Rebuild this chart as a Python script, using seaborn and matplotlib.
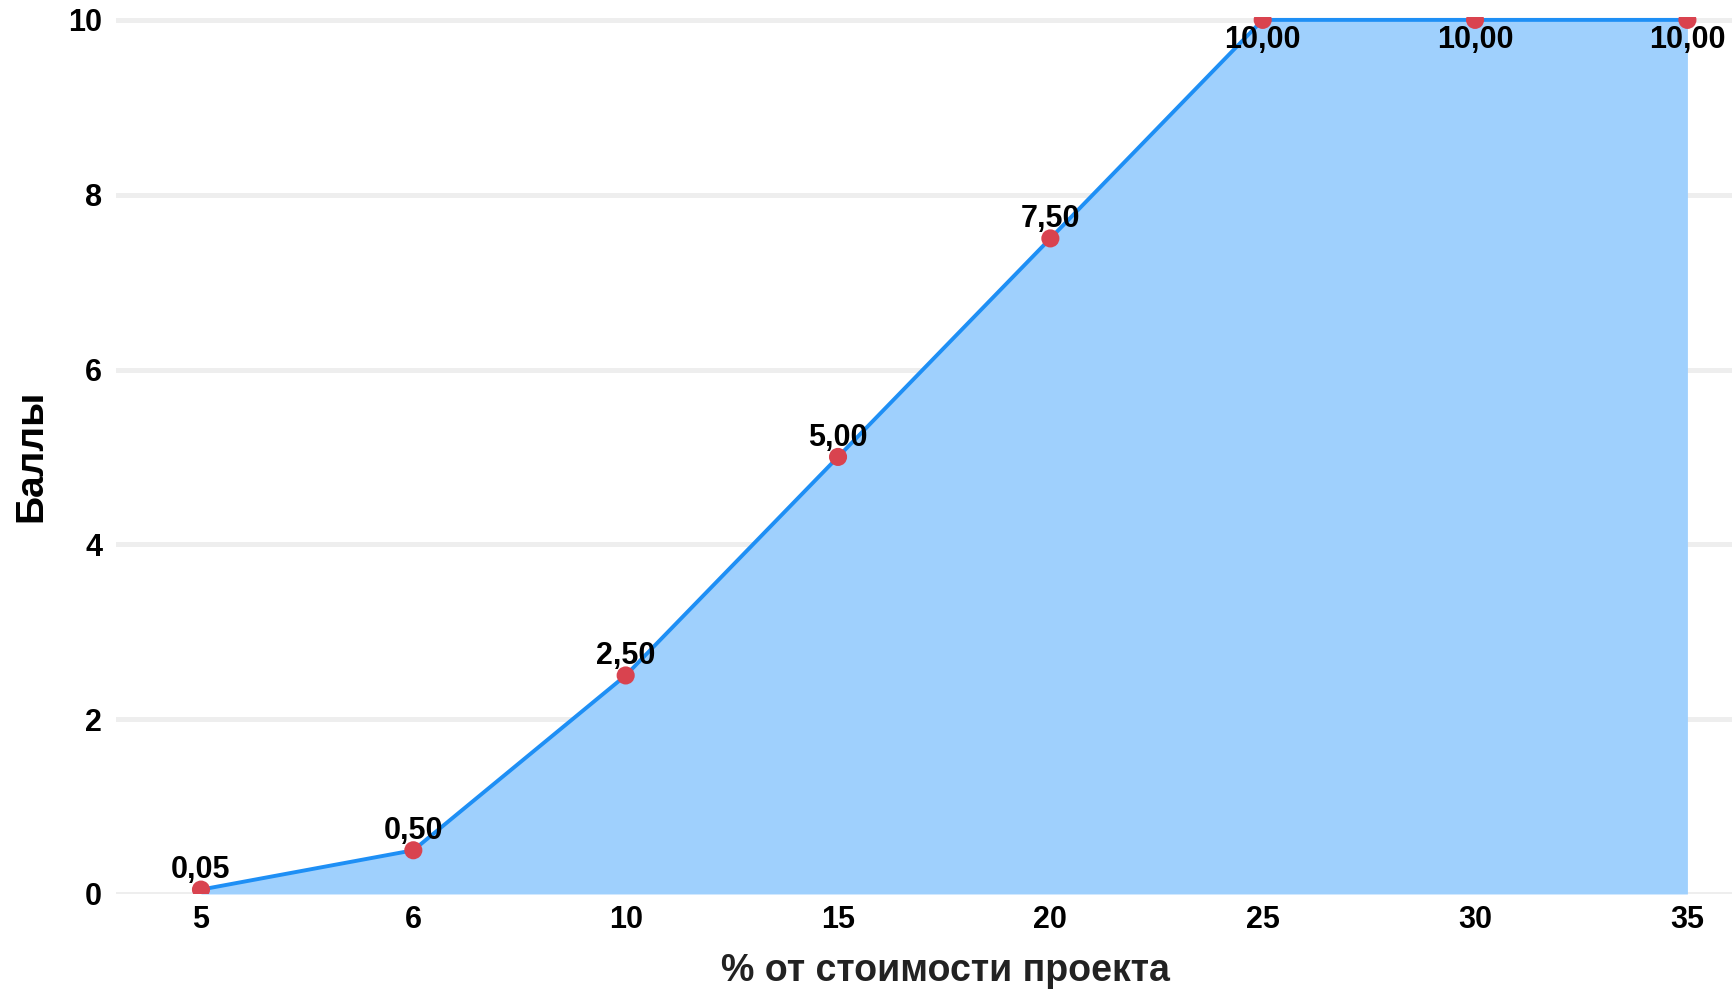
import numpy as np
import pandas as pd
import matplotlib.pyplot as plt
import seaborn as sns

# Данные графика
percent_labels = ["5", "6", "10", "15", "20", "25", "30", "35"]
points = [0.05, 0.5, 2.5, 5.0, 7.5, 10.0, 10.0, 10.0]
y_ticks = [0, 2, 4, 6, 8, 10]

sns.set_theme(style="white")
plt.rcParams["font.family"] = ["Liberation Sans", "DejaVu Sans"]

df = pd.DataFrame({"percent": percent_labels, "points": points})
pos = np.arange(len(percent_labels))

fig = plt.figure(figsize=(17.32, 9.9), dpi=100)
ax = fig.add_axes([0.067, 0.097, 0.933, 0.886])

# Заливка под линией
ax.fill_between(pos, 0, df["points"], color="#9fd0fd", linewidth=0, zorder=1)

sns.lineplot(data=df, x="percent", y="points", color="#1e8ff5",
             linewidth=2.8, sort=False, ax=ax, zorder=3)
sns.scatterplot(data=df, x="percent", y="points", color="#d9434f",
                s=170, edgecolor="none", ax=ax, zorder=4)

# Подписи значений
for i, v in enumerate(points):
    label = f"{v:.2f}".replace(".", ",")
    if v >= 10:
        ax.annotate(label, (i, v), xytext=(0, -4), textcoords="offset points",
                    ha="center", va="top", fontsize=22, fontweight="bold",
                    color="black", zorder=5)
    else:
        ax.annotate(label, (i, v), xytext=(0, 3), textcoords="offset points",
                    ha="center", va="bottom", fontsize=22, fontweight="bold",
                    color="black", zorder=5)

ax.set_xlim(-0.4, 7.21)
ax.set_ylim(0, 10.035)
ax.set_yticks(y_ticks)
ax.set_yticklabels([str(t) for t in y_ticks])
ax.set_xticks(pos)
ax.set_xticklabels(percent_labels)

for t in y_ticks:
    ax.axhline(t, color="#eeeeee", linewidth=3.6, zorder=0)
ax.grid(False)

for s in ax.spines.values():
    s.set_visible(False)
ax.tick_params(axis="both", length=0, labelsize=22, labelcolor="black")
ax.tick_params(axis="y", pad=10)
ax.tick_params(axis="x", pad=8)
for lbl in ax.get_xticklabels() + ax.get_yticklabels():
    lbl.set_fontweight("bold")

ax.set_xlabel("% от стоимости проекта", fontsize=27, fontweight="bold",
              color="#222222")
ax.set_ylabel("Баллы", fontsize=28, fontweight="bold", color="black")
ax.xaxis.label.set_va("center")
ax.yaxis.label.set_va("center")
ax.xaxis.set_label_coords(0.513, -0.0875)
ax.yaxis.set_label_coords(-0.0526, 0.50)

fig.savefig("out.png", dpi=100)
plt.close(fig)
